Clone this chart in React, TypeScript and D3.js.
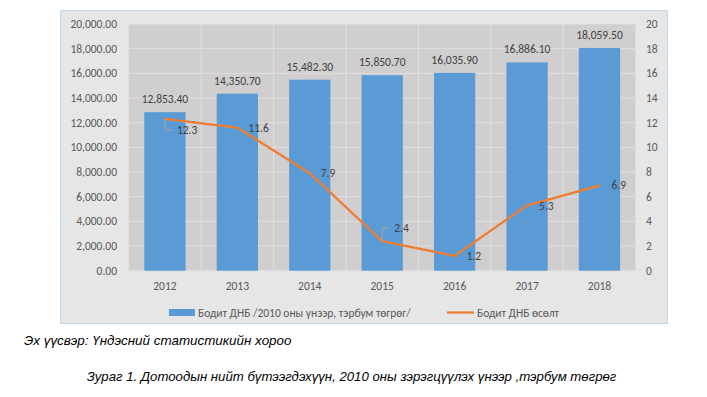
import React from 'react';
import * as d3 from 'd3';

const years = ['2012', '2013', '2014', '2015', '2016', '2017', '2018'];
const gdpValues = [12853.4, 14350.7, 15482.3, 15850.7, 16035.9, 16886.1, 18059.5];
const growthValues = [12.3, 11.6, 7.9, 2.4, 1.2, 5.3, 6.9];
const leftTicks = [0, 2000, 4000, 6000, 8000, 10000, 12000, 14000, 16000, 18000, 20000];
const rightTicks = [0, 2, 4, 6, 8, 10, 12, 14, 16, 18, 20];
const barLegend = 'Бодит ДНБ /2010 оны үнээр, тэрбум төгрөг/';
const lineLegend = 'Бодит ДНБ өсөлт';
const sourceNote = 'Эх үүсвэр: Үндэсний статистикийн хороо';
const caption = 'Зураг 1. Дотоодын нийт бүтээгдэхүүн, 2010 оны зэрэгцүүлэх үнээр ,тэрбум төгрөг';

// label placement tweaks for the growth line (dx, dy from point; leader line if true)
const growthLabelOffsets: [number, number, boolean][] = [
  [12, 11, true],
  [11, 0, false],
  [11, 0, false],
  [12, -13, true],
  [12, 0, false],
  [12, 1, false],
  [12, -1, false],
];

const W = 707;
const H = 397;
const plot = { left: 128.7, right: 635.7, top: 24, bottom: 270.7 };
const font = 'Calibri, Carlito, "Liberation Sans", Arial, sans-serif';
const captionFont = '"Liberation Sans Narrow", "Arial Narrow", "Liberation Sans", Arial, sans-serif';
const textColor = '#595959';

const App = () => {
  const x = d3.scaleBand<string>().domain(years).range([plot.left, plot.right]).paddingInner(0.43).paddingOuter(0.215);
  const xBand = d3.scaleBand<string>().domain(years).range([plot.left, plot.right]);
  const yLeft = d3.scaleLinear().domain([0, 20000]).range([plot.bottom, plot.top]);
  const yRight = d3.scaleLinear().domain([0, 20]).range([plot.bottom, plot.top]);
  const fmt = d3.format(',.2f');

  const line = d3
    .line<number>()
    .x((_, i) => (xBand(years[i]) as number) + xBand.bandwidth() / 2)
    .y((d) => yRight(d));

  const boundaries = years.map((y) => xBand(y) as number).concat([plot.right]);

  return (
    <svg width={W} height={H} style={{ position: 'absolute', left: 0, top: 0, background: '#fff' }}>
      <rect x={60.5} y={10.5} width={607} height={313} fill="#E7E6E6" stroke="#BDD7EE" strokeWidth={1} />
      <rect x={plot.left} y={plot.top} width={plot.right - plot.left} height={plot.bottom - plot.top} fill="#D0CECE" />

      {/* grid */}
      {leftTicks.map((t) => (
        <line key={'h' + t} x1={plot.left} x2={plot.right} y1={yLeft(t)} y2={yLeft(t)} stroke="#E0DFDF" strokeWidth={1} />
      ))}
      {boundaries.map((bx, i) => (
        <line key={'v' + i} x1={bx} x2={bx} y1={plot.top} y2={plot.bottom + 5} stroke="#E0DFDF" strokeWidth={1} />
      ))}

      {/* bars */}
      {gdpValues.map((v, i) => (
        <rect
          key={'b' + i}
          x={x(years[i])}
          y={yLeft(v)}
          width={x.bandwidth()}
          height={plot.bottom - yLeft(v)}
          fill="#5B9BD5"
        />
      ))}
      {gdpValues.map((v, i) => (
        <text
          key={'bl' + i}
          x={(x(years[i]) as number) + x.bandwidth() / 2}
          y={yLeft(v) - 9}
          textAnchor="middle"
          fontFamily={font}
          fontSize={11.5}
          fill="#404040"
        >
          {fmt(v)}
        </text>
      ))}

      {/* axis labels */}
      {leftTicks.map((t) => (
        <text key={'lt' + t} x={117} y={yLeft(t)} dy="0.35em" textAnchor="end" fontFamily={font} fontSize={11.5} fill={textColor}>
          {fmt(t)}
        </text>
      ))}
      {rightTicks.map((t) => (
        <text key={'rt' + t} x={646} y={yRight(t)} dy="0.35em" textAnchor="start" fontFamily={font} fontSize={11.5} fill={textColor}>
          {t}
        </text>
      ))}
      {years.map((yr) => (
        <text
          key={'x' + yr}
          x={(xBand(yr) as number) + xBand.bandwidth() / 2}
          y={286}
          dy="0.35em"
          textAnchor="middle"
          fontFamily={font}
          fontSize={11.5}
          fill={textColor}
        >
          {yr}
        </text>
      ))}

      {/* growth line */}
      <path d={line(growthValues) || ''} fill="none" stroke="#ED7D31" strokeWidth={2.25} strokeLinejoin="round" strokeLinecap="round" />
      {growthValues.map((v, i) => {
        const px = (xBand(years[i]) as number) + xBand.bandwidth() / 2;
        const py = yRight(v);
        const [dx, dy, leader] = growthLabelOffsets[i];
        return (
          <g key={'gl' + i}>
            {leader && (
              <polyline
                points={`${px},${py} ${px},${py + dy} ${px + dx - 5},${py + dy}`}
                fill="none"
                stroke="#A6A6A6"
                strokeWidth={1}
              />
            )}
            <text x={px + dx} y={py + dy} dy="0.35em" fontFamily={font} fontSize={11.5} fill="#404040">
              {v.toFixed(1)}
            </text>
          </g>
        );
      })}

      {/* legend */}
      <rect x={169} y={309} width={26} height={7} fill="#5B9BD5" />
      <text x={198} y={312.5} dy="0.35em" fontFamily={font} fontSize={11.5} fill={textColor}>
        {barLegend}
      </text>
      <line x1={447} x2={474} y1={312.5} y2={312.5} stroke="#ED7D31" strokeWidth={2.25} />
      <text x={477} y={312.5} dy="0.35em" fontFamily={font} fontSize={11.5} fill={textColor}>
        {lineLegend}
      </text>

      {/* captions */}
      <text x={24} y={344.5} fontFamily={captionFont} fontStyle="italic" fontSize={13.4} fill="#000">
        {sourceNote}
      </text>
      <text x={351.5} y={380.5} textAnchor="middle" fontFamily={captionFont} fontStyle="italic" fontSize={13.2} fill="#000">
        {caption}
      </text>
    </svg>
  );
};

export default App;
